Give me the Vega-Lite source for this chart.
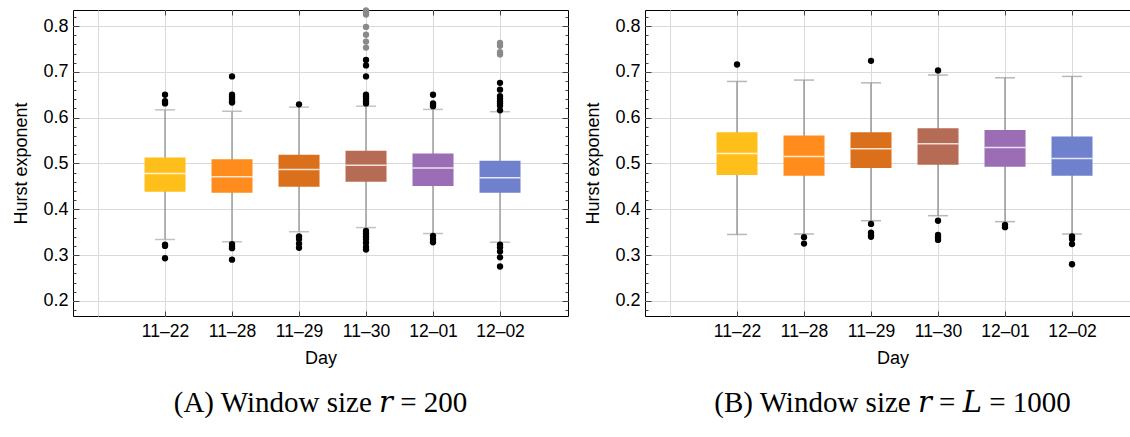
{
  "$schema": "https://vega.github.io/schema/vega-lite/v6.json",
  "padding": {"left": 12, "top": 6, "right": 0, "bottom": 0},
  "background": "white",
  "spacing": 15,
  "config": {
    "view": {"stroke": "#000000", "strokeWidth": 1},
    "axis": {"labelFont": "Liberation Sans", "titleFont": "Liberation Sans", "labelColor": "#000000", "titleColor": "#000000", "titleFontWeight": "normal"}
  },
  "datasets": {
    "boxA": [
      {"day": "11-22", "lo": 0.334, "q1": 0.438, "med": 0.478, "q3": 0.513, "hi": 0.617},
      {"day": "11-28", "lo": 0.329, "q1": 0.436, "med": 0.471, "q3": 0.509, "hi": 0.614},
      {"day": "11-29", "lo": 0.351, "q1": 0.449, "med": 0.487, "q3": 0.519, "hi": 0.623},
      {"day": "11-30", "lo": 0.360, "q1": 0.460, "med": 0.496, "q3": 0.528, "hi": 0.625},
      {"day": "12-01", "lo": 0.347, "q1": 0.451, "med": 0.490, "q3": 0.522, "hi": 0.618},
      {"day": "12-02", "lo": 0.328, "q1": 0.436, "med": 0.469, "q3": 0.506, "hi": 0.613}
    ],
    "outA": [
      {"day": "11-22", "v": 0.650, "kind": "near"}, {"day": "11-22", "v": 0.636, "kind": "near"}, {"day": "11-22", "v": 0.631, "kind": "near"},
      {"day": "11-22", "v": 0.323, "kind": "near"}, {"day": "11-22", "v": 0.320, "kind": "near"}, {"day": "11-22", "v": 0.293, "kind": "near"},
      {"day": "11-28", "v": 0.690, "kind": "near"}, {"day": "11-28", "v": 0.650, "kind": "near"}, {"day": "11-28", "v": 0.646, "kind": "near"},
      {"day": "11-28", "v": 0.641, "kind": "near"}, {"day": "11-28", "v": 0.636, "kind": "near"}, {"day": "11-28", "v": 0.633, "kind": "near"},
      {"day": "11-28", "v": 0.324, "kind": "near"}, {"day": "11-28", "v": 0.319, "kind": "near"}, {"day": "11-28", "v": 0.315, "kind": "near"},
      {"day": "11-28", "v": 0.290, "kind": "near"},
      {"day": "11-29", "v": 0.629, "kind": "near"}, {"day": "11-29", "v": 0.341, "kind": "near"}, {"day": "11-29", "v": 0.335, "kind": "near"},
      {"day": "11-29", "v": 0.325, "kind": "near"}, {"day": "11-29", "v": 0.316, "kind": "near"},
      {"day": "11-30", "v": 0.631, "kind": "near"}, {"day": "11-30", "v": 0.636, "kind": "near"}, {"day": "11-30", "v": 0.642, "kind": "near"},
      {"day": "11-30", "v": 0.646, "kind": "near"}, {"day": "11-30", "v": 0.650, "kind": "near"}, {"day": "11-30", "v": 0.690, "kind": "near"},
      {"day": "11-30", "v": 0.714, "kind": "near"}, {"day": "11-30", "v": 0.726, "kind": "near"},
      {"day": "11-30", "v": 0.753, "kind": "far"}, {"day": "11-30", "v": 0.766, "kind": "far"}, {"day": "11-30", "v": 0.781, "kind": "far"},
      {"day": "11-30", "v": 0.798, "kind": "far"}, {"day": "11-30", "v": 0.825, "kind": "far"}, {"day": "11-30", "v": 0.830, "kind": "far"},
      {"day": "11-30", "v": 0.834, "kind": "far"},
      {"day": "11-30", "v": 0.353, "kind": "near"}, {"day": "11-30", "v": 0.347, "kind": "near"}, {"day": "11-30", "v": 0.341, "kind": "near"},
      {"day": "11-30", "v": 0.335, "kind": "near"}, {"day": "11-30", "v": 0.327, "kind": "near"}, {"day": "11-30", "v": 0.318, "kind": "near"},
      {"day": "11-30", "v": 0.312, "kind": "near"},
      {"day": "12-01", "v": 0.650, "kind": "near"}, {"day": "12-01", "v": 0.631, "kind": "near"}, {"day": "12-01", "v": 0.628, "kind": "near"},
      {"day": "12-01", "v": 0.625, "kind": "near"}, {"day": "12-01", "v": 0.342, "kind": "near"}, {"day": "12-01", "v": 0.335, "kind": "near"},
      {"day": "12-01", "v": 0.328, "kind": "near"},
      {"day": "12-02", "v": 0.676, "kind": "near"}, {"day": "12-02", "v": 0.661, "kind": "near"}, {"day": "12-02", "v": 0.647, "kind": "near"},
      {"day": "12-02", "v": 0.642, "kind": "near"}, {"day": "12-02", "v": 0.636, "kind": "near"}, {"day": "12-02", "v": 0.631, "kind": "near"},
      {"day": "12-02", "v": 0.626, "kind": "near"}, {"day": "12-02", "v": 0.616, "kind": "near"},
      {"day": "12-02", "v": 0.763, "kind": "far"}, {"day": "12-02", "v": 0.757, "kind": "far"}, {"day": "12-02", "v": 0.743, "kind": "far"},
      {"day": "12-02", "v": 0.738, "kind": "far"},
      {"day": "12-02", "v": 0.323, "kind": "near"}, {"day": "12-02", "v": 0.317, "kind": "near"}, {"day": "12-02", "v": 0.308, "kind": "near"},
      {"day": "12-02", "v": 0.295, "kind": "near"}, {"day": "12-02", "v": 0.275, "kind": "near"}
    ],
    "boxB": [
      {"day": "11-22", "lo": 0.345, "q1": 0.475, "med": 0.522, "q3": 0.568, "hi": 0.679},
      {"day": "11-28", "lo": 0.346, "q1": 0.473, "med": 0.515, "q3": 0.561, "hi": 0.682},
      {"day": "11-29", "lo": 0.375, "q1": 0.490, "med": 0.532, "q3": 0.568, "hi": 0.676},
      {"day": "11-30", "lo": 0.386, "q1": 0.497, "med": 0.543, "q3": 0.577, "hi": 0.693},
      {"day": "12-01", "lo": 0.373, "q1": 0.493, "med": 0.535, "q3": 0.573, "hi": 0.687},
      {"day": "12-02", "lo": 0.346, "q1": 0.473, "med": 0.511, "q3": 0.559, "hi": 0.690}
    ],
    "outB": [
      {"day": "11-22", "v": 0.716, "kind": "near"},
      {"day": "11-28", "v": 0.339, "kind": "near"}, {"day": "11-28", "v": 0.325, "kind": "near"},
      {"day": "11-29", "v": 0.724, "kind": "near"}, {"day": "11-29", "v": 0.368, "kind": "near"}, {"day": "11-29", "v": 0.349, "kind": "near"},
      {"day": "11-29", "v": 0.344, "kind": "near"}, {"day": "11-29", "v": 0.340, "kind": "near"},
      {"day": "11-30", "v": 0.703, "kind": "near"}, {"day": "11-30", "v": 0.375, "kind": "near"}, {"day": "11-30", "v": 0.344, "kind": "near"},
      {"day": "11-30", "v": 0.339, "kind": "near"}, {"day": "11-30", "v": 0.333, "kind": "near"},
      {"day": "12-01", "v": 0.366, "kind": "near"}, {"day": "12-01", "v": 0.361, "kind": "near"},
      {"day": "12-02", "v": 0.341, "kind": "near"}, {"day": "12-02", "v": 0.335, "kind": "near"}, {"day": "12-02", "v": 0.324, "kind": "near"},
      {"day": "12-02", "v": 0.280, "kind": "near"}
    ]
  },
  "hconcat": [
    {
      "width": 495,
      "height": 306,
      "title": {"text": "(A) Window size 𝑟 = 200", "orient": "bottom", "anchor": "middle", "font": "'Liberation Serif', 'DejaVu Serif', serif", "fontSize": 29, "fontWeight": "normal", "color": "#000000", "offset": 21},
      "resolve": {"axis": {"x": "independent", "y": "independent"}},
      "layer": [
        {
          "data": {"name": "boxA"},
          "mark": {"type": "rule", "color": "#a3a3a3", "strokeWidth": 1.6},
          "encoding": {
            "x": {"field": "day", "type": "ordinal", "scale": {"type": "point", "domain": [" ", "11-22", "11-28", "11-29", "11-30", "12-01", "12-02"], "padding": 0.694, "align": 0.269},
                  "axis": {"orient": "bottom", "ticks": false, "domain": false, "grid": true, "gridColor": "#dadada", "labelAngle": 0, "labelFontSize": 17.5, "labelPadding": 6, "labelExpr": "replace(datum.label, '-', '–')", "title": "Day", "titleFontSize": 18, "titlePadding": 10}},
            "y": {"field": "lo", "type": "quantitative", "scale": {"domain": [0.167, 0.835], "nice": false, "zero": false},
                  "axis": {"orient": "left", "values": [0.2, 0.3, 0.4, 0.5, 0.6, 0.7, 0.8], "format": ".1f", "ticks": false, "domain": false, "grid": true, "gridColor": "#dadada", "labelFontSize": 18, "labelPadding": 5, "title": "Hurst exponent", "titleFontSize": 18, "titlePadding": 12}},
            "y2": {"field": "hi"}
          }
        },
        {
          "data": {"name": "boxA"},
          "mark": {"type": "bar", "size": 41},
          "encoding": {
            "x": {"field": "day", "type": "ordinal", "scale": {"type": "point", "domain": [" ", "11-22", "11-28", "11-29", "11-30", "12-01", "12-02"], "padding": 0.694, "align": 0.269},
                  "axis": {"orient": "bottom", "values": ["11-22", "11-28", "11-29", "11-30", "12-01", "12-02"], "labels": false, "grid": false, "domain": false, "ticks": true, "tickSize": -5, "tickColor": "#444444", "title": null}},
            "y": {"field": "q1", "type": "quantitative", "scale": {"domain": [0.167, 0.835], "nice": false, "zero": false},
                  "axis": {"orient": "left", "values": [0.18, 0.2, 0.22, 0.24, 0.26, 0.28, 0.3, 0.32, 0.34, 0.36, 0.38, 0.4, 0.42, 0.44, 0.46, 0.48, 0.5, 0.52, 0.54, 0.56, 0.58, 0.6, 0.62, 0.64, 0.66, 0.68, 0.7, 0.72, 0.74, 0.76, 0.78, 0.8, 0.82], "labels": false, "grid": false, "domain": false, "ticks": true, "tickColor": "#444444", "tickSize": {"condition": {"test": "abs(datum.value*10 - round(datum.value*10)) < 0.01", "value": -6}, "value": -3}, "title": null}},
            "y2": {"field": "q3"},
            "color": {"field": "day", "type": "nominal", "scale": {"domain": ["11-22", "11-28", "11-29", "11-30", "12-01", "12-02"], "range": ["#FFBF1B", "#FF8C1C", "#DB701C", "#B66B55", "#9A6DB4", "#6F80CC"]}, "legend": null}
          }
        },
        {
          "data": {"name": "boxA"},
          "mark": {"type": "tick", "size": 20, "thickness": 1.5, "color": "#a8a8a8"},
          "encoding": {
            "x": {"field": "day", "type": "ordinal", "scale": {"type": "point", "domain": [" ", "11-22", "11-28", "11-29", "11-30", "12-01", "12-02"], "padding": 0.694, "align": 0.269},
                  "axis": {"orient": "top", "values": ["11-22", "11-28", "11-29", "11-30", "12-01", "12-02"], "labels": false, "grid": false, "domain": false, "ticks": true, "tickSize": -5, "tickColor": "#444444", "title": null}},
            "y": {"field": "lo", "type": "quantitative", "scale": {"domain": [0.167, 0.835], "nice": false, "zero": false},
                  "axis": {"orient": "right", "values": [0.18, 0.2, 0.22, 0.24, 0.26, 0.28, 0.3, 0.32, 0.34, 0.36, 0.38, 0.4, 0.42, 0.44, 0.46, 0.48, 0.5, 0.52, 0.54, 0.56, 0.58, 0.6, 0.62, 0.64, 0.66, 0.68, 0.7, 0.72, 0.74, 0.76, 0.78, 0.8, 0.82], "labels": false, "grid": false, "domain": false, "ticks": true, "tickColor": "#444444", "tickSize": {"condition": {"test": "abs(datum.value*10 - round(datum.value*10)) < 0.01", "value": -6}, "value": -3}, "title": null}}
          }
        },
        {
          "data": {"name": "boxA"},
          "mark": {"type": "tick", "size": 20, "thickness": 1.5, "color": "#a8a8a8"},
          "encoding": {
            "x": {"field": "day", "type": "ordinal", "scale": {"type": "point", "domain": [" ", "11-22", "11-28", "11-29", "11-30", "12-01", "12-02"], "padding": 0.694, "align": 0.269}, "axis": null},
            "y": {"field": "hi", "type": "quantitative", "scale": {"domain": [0.167, 0.835], "nice": false, "zero": false}, "axis": null}
          }
        },
        {
          "data": {"name": "boxA"},
          "mark": {"type": "tick", "size": 41, "thickness": 1.5, "color": "#ffffff", "opacity": 0.8},
          "encoding": {
            "x": {"field": "day", "type": "ordinal", "scale": {"type": "point", "domain": [" ", "11-22", "11-28", "11-29", "11-30", "12-01", "12-02"], "padding": 0.694, "align": 0.269}, "axis": null},
            "y": {"field": "med", "type": "quantitative", "scale": {"domain": [0.167, 0.835], "nice": false, "zero": false}, "axis": null}
          }
        },
        {
          "data": {"name": "outA"},
          "mark": {"type": "circle", "size": 40, "opacity": 1},
          "encoding": {
            "x": {"field": "day", "type": "ordinal", "scale": {"type": "point", "domain": [" ", "11-22", "11-28", "11-29", "11-30", "12-01", "12-02"], "padding": 0.694, "align": 0.269}, "axis": null},
            "y": {"field": "v", "type": "quantitative", "scale": {"domain": [0.167, 0.835], "nice": false, "zero": false}, "axis": null},
            "color": {"condition": {"test": "datum.kind === 'far'", "value": "#8a8a8a"}, "value": "#000000"}
          }
        }
      ]
    },
    {
      "width": 495,
      "height": 306,
      "title": {"text": "(B) Window size 𝑟 = 𝐿 = 1000", "orient": "bottom", "anchor": "middle", "font": "'Liberation Serif', 'DejaVu Serif', serif", "fontSize": 29, "fontWeight": "normal", "color": "#000000", "offset": 21},
      "resolve": {"axis": {"x": "independent", "y": "independent"}},
      "layer": [
        {
          "data": {"name": "boxB"},
          "mark": {"type": "rule", "color": "#8c8c8c", "strokeWidth": 1.3},
          "encoding": {
            "x": {"field": "day", "type": "ordinal", "scale": {"type": "point", "domain": [" ", "11-22", "11-28", "11-29", "11-30", "12-01", "12-02"], "padding": 0.694, "align": 0.269},
                  "axis": {"orient": "bottom", "ticks": false, "domain": false, "grid": true, "gridColor": "#dadada", "labelAngle": 0, "labelFontSize": 17.5, "labelPadding": 6, "labelExpr": "replace(datum.label, '-', '–')", "title": "Day", "titleFontSize": 18, "titlePadding": 10}},
            "y": {"field": "lo", "type": "quantitative", "scale": {"domain": [0.167, 0.835], "nice": false, "zero": false},
                  "axis": {"orient": "left", "values": [0.2, 0.3, 0.4, 0.5, 0.6, 0.7, 0.8], "format": ".1f", "ticks": false, "domain": false, "grid": true, "gridColor": "#dadada", "labelFontSize": 18, "labelPadding": 5, "title": "Hurst exponent", "titleFontSize": 18, "titlePadding": 12}},
            "y2": {"field": "hi"}
          }
        },
        {
          "data": {"name": "boxB"},
          "mark": {"type": "bar", "size": 41},
          "encoding": {
            "x": {"field": "day", "type": "ordinal", "scale": {"type": "point", "domain": [" ", "11-22", "11-28", "11-29", "11-30", "12-01", "12-02"], "padding": 0.694, "align": 0.269},
                  "axis": {"orient": "bottom", "values": ["11-22", "11-28", "11-29", "11-30", "12-01", "12-02"], "labels": false, "grid": false, "domain": false, "ticks": true, "tickSize": -5, "tickColor": "#444444", "title": null}},
            "y": {"field": "q1", "type": "quantitative", "scale": {"domain": [0.167, 0.835], "nice": false, "zero": false},
                  "axis": {"orient": "left", "values": [0.18, 0.2, 0.22, 0.24, 0.26, 0.28, 0.3, 0.32, 0.34, 0.36, 0.38, 0.4, 0.42, 0.44, 0.46, 0.48, 0.5, 0.52, 0.54, 0.56, 0.58, 0.6, 0.62, 0.64, 0.66, 0.68, 0.7, 0.72, 0.74, 0.76, 0.78, 0.8, 0.82], "labels": false, "grid": false, "domain": false, "ticks": true, "tickColor": "#444444", "tickSize": {"condition": {"test": "abs(datum.value*10 - round(datum.value*10)) < 0.01", "value": -6}, "value": -3}, "title": null}},
            "y2": {"field": "q3"},
            "color": {"field": "day", "type": "nominal", "scale": {"domain": ["11-22", "11-28", "11-29", "11-30", "12-01", "12-02"], "range": ["#FFBF1B", "#FF8C1C", "#DB701C", "#B66B55", "#9A6DB4", "#6F80CC"]}, "legend": null}
          }
        },
        {
          "data": {"name": "boxB"},
          "mark": {"type": "tick", "size": 20, "thickness": 1.5, "color": "#999999"},
          "encoding": {
            "x": {"field": "day", "type": "ordinal", "scale": {"type": "point", "domain": [" ", "11-22", "11-28", "11-29", "11-30", "12-01", "12-02"], "padding": 0.694, "align": 0.269},
                  "axis": {"orient": "top", "values": ["11-22", "11-28", "11-29", "11-30", "12-01", "12-02"], "labels": false, "grid": false, "domain": false, "ticks": true, "tickSize": -5, "tickColor": "#444444", "title": null}},
            "y": {"field": "lo", "type": "quantitative", "scale": {"domain": [0.167, 0.835], "nice": false, "zero": false},
                  "axis": {"orient": "right", "values": [0.18, 0.2, 0.22, 0.24, 0.26, 0.28, 0.3, 0.32, 0.34, 0.36, 0.38, 0.4, 0.42, 0.44, 0.46, 0.48, 0.5, 0.52, 0.54, 0.56, 0.58, 0.6, 0.62, 0.64, 0.66, 0.68, 0.7, 0.72, 0.74, 0.76, 0.78, 0.8, 0.82], "labels": false, "grid": false, "domain": false, "ticks": true, "tickColor": "#444444", "tickSize": {"condition": {"test": "abs(datum.value*10 - round(datum.value*10)) < 0.01", "value": -6}, "value": -3}, "title": null}}
          }
        },
        {
          "data": {"name": "boxB"},
          "mark": {"type": "tick", "size": 20, "thickness": 1.5, "color": "#999999"},
          "encoding": {
            "x": {"field": "day", "type": "ordinal", "scale": {"type": "point", "domain": [" ", "11-22", "11-28", "11-29", "11-30", "12-01", "12-02"], "padding": 0.694, "align": 0.269}, "axis": null},
            "y": {"field": "hi", "type": "quantitative", "scale": {"domain": [0.167, 0.835], "nice": false, "zero": false}, "axis": null}
          }
        },
        {
          "data": {"name": "boxB"},
          "mark": {"type": "tick", "size": 41, "thickness": 1.5, "color": "#ffffff", "opacity": 0.8},
          "encoding": {
            "x": {"field": "day", "type": "ordinal", "scale": {"type": "point", "domain": [" ", "11-22", "11-28", "11-29", "11-30", "12-01", "12-02"], "padding": 0.694, "align": 0.269}, "axis": null},
            "y": {"field": "med", "type": "quantitative", "scale": {"domain": [0.167, 0.835], "nice": false, "zero": false}, "axis": null}
          }
        },
        {
          "data": {"name": "outB"},
          "mark": {"type": "circle", "size": 40, "opacity": 1},
          "encoding": {
            "x": {"field": "day", "type": "ordinal", "scale": {"type": "point", "domain": [" ", "11-22", "11-28", "11-29", "11-30", "12-01", "12-02"], "padding": 0.694, "align": 0.269}, "axis": null},
            "y": {"field": "v", "type": "quantitative", "scale": {"domain": [0.167, 0.835], "nice": false, "zero": false}, "axis": null},
            "color": {"condition": {"test": "datum.kind === 'far'", "value": "#8a8a8a"}, "value": "#000000"}
          }
        }
      ]
    }
  ]
}
